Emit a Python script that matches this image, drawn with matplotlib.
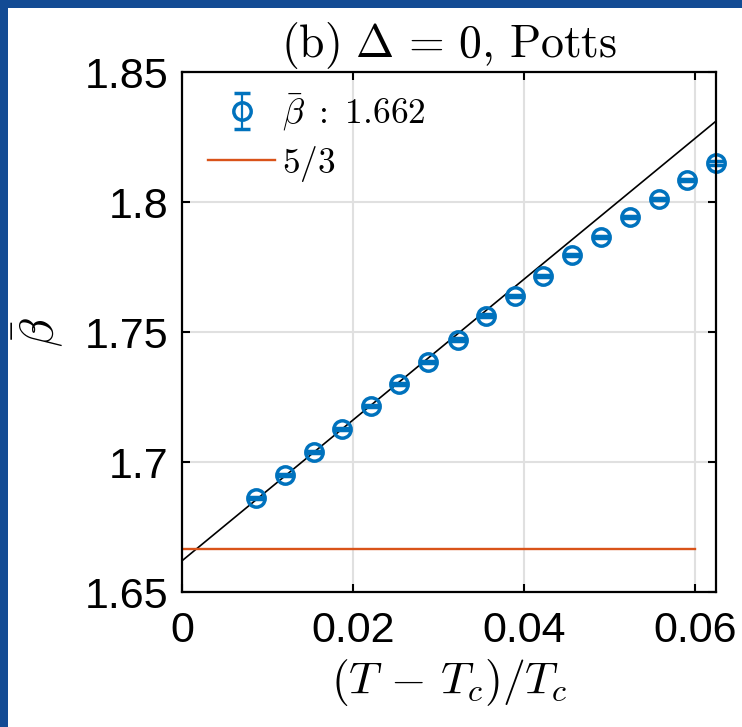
import matplotlib
matplotlib.use("Agg")
import matplotlib.pyplot as plt
from matplotlib.patches import Rectangle
import numpy as np

plt.rcParams["mathtext.fontset"] = "cm"
plt.rcParams["font.family"] = ["Liberation Sans", "DejaVu Sans"]

# reduced temperature (T - Tc)/Tc and effective exponent estimates
t_red = [0.0087, 0.0120, 0.0154, 0.0187, 0.0221, 0.0254, 0.0288, 0.0322, 0.0355,
         0.0389, 0.0422, 0.0456, 0.0490, 0.0523, 0.0557, 0.0590, 0.0624]
beta_bar = [1.6862, 1.6950, 1.7038, 1.7126, 1.7215, 1.7299, 1.7385, 1.7471, 1.7563,
            1.7640, 1.7716, 1.7797, 1.7866, 1.7943, 1.8011, 1.8084, 1.8149]
beta_err = [0.0004, 0.0004, 0.0004, 0.0004, 0.0004, 0.0004, 0.0005, 0.0005, 0.0005,
            0.0004, 0.0005, 0.0004, 0.0004, 0.0004, 0.0004, 0.0004, 0.0007]

# linear extrapolation to T = Tc
fit_intercept = 1.662
fit_slope = 2.71

potts_value = 5 / 3
potts_xmax = 0.06

x_ticks = [0, 0.02, 0.04, 0.06]
x_ticklabels = ["0", "0.02", "0.04", "0.06"]
y_ticks = [1.65, 1.70, 1.75, 1.80, 1.85]
y_ticklabels = ["1.65", "1.7", "1.75", "1.8", "1.85"]

blue = "#0072BD"
orange = "#D95319"

W, H = 742, 727
fig = plt.figure(figsize=(W / 100, H / 100), dpi=100)
fig.patch.set_facecolor("#134b94")
fig.patches.append(Rectangle((8 / W, 0), 1 - 8 / W, 1 - 8 / H,
                             transform=fig.transFigure, facecolor="white",
                             edgecolor="none", zorder=-10))

ax = fig.add_axes([182 / W, 1 - 592 / H, (716 - 182) / W, (592 - 72) / H])
ax.set_facecolor("white")

xs = np.array([0, t_red[-1]])
ax.plot(xs, fit_intercept + fit_slope * xs, color="black", lw=1.2, zorder=3)
ax.plot([0, potts_xmax], [potts_value, potts_value], color=orange, lw=1.7,
        label=r"$5/3$", zorder=3)
ax.errorbar(t_red, beta_bar, yerr=beta_err, fmt="o", color=blue, mfc="none",
            mec=blue, ms=12.5, mew=2.5, elinewidth=1.6, capsize=6, capthick=1.8,
            label=r"$\bar{\beta}\ :\ 1.662$", zorder=4, clip_on=False)

ax.set_xlim(0, t_red[-1])
ax.set_ylim(1.65, 1.85)
ax.set_xticks(x_ticks)
ax.set_xticklabels(x_ticklabels)
ax.set_yticks(y_ticks)
ax.set_yticklabels(y_ticklabels)

ax.grid(True, color="#e0e0e0", lw=1.5)
ax.set_axisbelow(True)
ax.tick_params(direction="in", length=6, width=1.5, top=True, right=True,
               labelsize=31, colors="black")
ax.tick_params(axis="x", pad=14)
ax.tick_params(axis="y", pad=10)
for s in ax.spines.values():
    s.set_linewidth(1.6)
    s.set_zorder(5)

ax.set_title(r"$\mathrm{(b)}\ \Delta\,=\,0,\,\mathrm{Potts}$", fontsize=33, pad=11)
ax.set_xlabel(r"$(T\,-\,T_c)/T_c$", fontsize=33, labelpad=4)
ax.set_ylabel(r"$\bar{\beta}$", fontsize=34, labelpad=14)

handles, labels = ax.get_legend_handles_labels()
order = [1, 0]
ax.legend([handles[i] for i in order], [labels[i] for i in order],
          loc="upper left", frameon=False, fontsize=25.5, handlelength=1.9,
          handletextpad=0.2, labelspacing=0.3, borderaxespad=0.0,
          bbox_to_anchor=(0.022, 0.99))

fig.savefig("out.png", dpi=100, facecolor=fig.get_facecolor())
